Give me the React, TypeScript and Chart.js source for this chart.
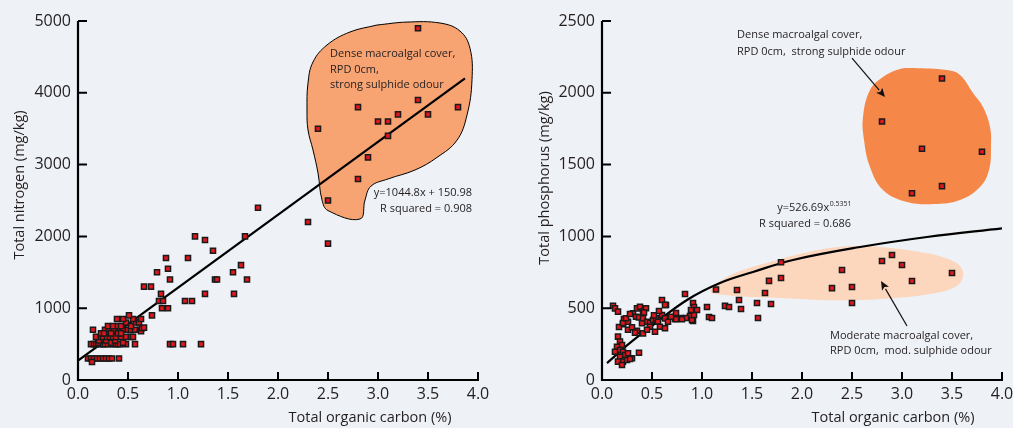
import React, { useEffect, useRef } from 'react';
import { Chart, registerables } from 'chart.js';

Chart.register(...registerables);

type Pt = [number, number];

const FONT = '"Open Sans", "DejaVu Sans", sans-serif';
const TEXT = '#231f20';
const BG = '#eef1f5';

// ---------- Left panel: Total nitrogen vs TOC ----------
const xTicks = [0, 0.5, 1, 1.5, 2, 2.5, 3, 3.5, 4];
const nitrogenTicks = [0, 1000, 2000, 3000, 4000, 5000];
const phosphorusTicks = [0, 500, 1000, 1500, 2000, 2500];

const nitrogenDense: Pt[] = [
  [3.4, 4900], [2.8, 3800], [3.4, 3900], [3.8, 3800], [3.0, 3600], [3.1, 3600], [3.2, 3700],
  [3.5, 3700], [2.4, 3500], [3.1, 3400], [2.9, 3100], [2.8, 2800], [2.5, 2500],
];
const nitrogenMid: Pt[] = [
  [1.8, 2400], [2.3, 2200], [2.5, 1900], [1.17, 2000], [1.27, 1950], [1.67, 2000], [1.35, 1800],
  [0.88, 1700], [1.1, 1700], [1.63, 1600], [0.79, 1500], [0.9, 1550], [1.55, 1500], [0.92, 1400],
  [1.37, 1400], [1.39, 1400], [1.69, 1400], [0.66, 1300], [0.73, 1300], [0.83, 1200], [1.27, 1200],
  [1.56, 1200], [0.81, 1100], [0.85, 1100], [1.07, 1100], [1.14, 1100], [0.84, 1000], [0.9, 1000],
  [0.74, 900], [0.92, 500], [0.95, 500], [1.05, 500], [1.23, 500],
];
const nitrogenLow: Pt[] = [
  [0.1, 300], [0.13, 300], [0.16, 300], [0.19, 300], [0.22, 300], [0.25, 300], [0.28, 300],
  [0.31, 300], [0.34, 300], [0.41, 300], [0.14, 250],
  [0.15, 700], [0.27, 700], [0.31, 700], [0.36, 700], [0.42, 700], [0.45, 700], [0.5, 700],
  [0.53, 700], [0.57, 700], [0.62, 700], [0.63, 680], [0.64, 720], [0.66, 730],
  [0.13, 500], [0.16, 500], [0.18, 500], [0.22, 500], [0.25, 500], [0.27, 500], [0.3, 500],
  [0.34, 500], [0.37, 500], [0.4, 500], [0.42, 500], [0.48, 500], [0.57, 500],
  [0.2, 520], [0.33, 520], [0.45, 520], [0.21, 550], [0.28, 550], [0.37, 550],
  [0.18, 600], [0.23, 600], [0.25, 600], [0.29, 600], [0.32, 600], [0.35, 600], [0.38, 600],
  [0.43, 600], [0.48, 600], [0.53, 600], [0.55, 600],
  [0.23, 650], [0.26, 650], [0.33, 650], [0.4, 650], [0.43, 650],
  [0.3, 750], [0.35, 750], [0.4, 750], [0.43, 750], [0.53, 750],
  [0.48, 800], [0.58, 800], [0.61, 800], [0.39, 850], [0.45, 850], [0.55, 850], [0.63, 850],
  [0.51, 900],
];
const nitrogenFit: Pt[] = [[0, 270], [3.87, 4200]];
const nitrogenBlob: Pt[] = [
  [2.99, 4944], [3.29, 4985], [3.62, 4972], [3.82, 4860], [3.92, 4620], [3.94, 4180],
  [3.89, 3690], [3.79, 3340], [3.59, 3100], [3.37, 2925], [3.1, 2800], [2.93, 2700],
  [2.87, 2507], [2.82, 2242], [2.5, 2360], [2.44, 2507], [2.4, 2883], [2.35, 3203],
  [2.3, 3482], [2.29, 3760], [2.3, 4136], [2.35, 4429], [2.49, 4666], [2.72, 4847], [2.99, 4944],
];

// ---------- Right panel: Total phosphorus vs TOC ----------
const phosphorusDense: Pt[] = [
  [3.4, 2100], [2.8, 1800], [3.2, 1610], [3.8, 1590], [3.4, 1350], [3.1, 1300],
];
const phosphorusModerate: Pt[] = [
  [1.79, 820], [1.67, 690], [1.79, 710], [1.63, 606], [1.69, 529], [2.4, 766], [2.3, 640],
  [2.5, 648], [2.5, 536], [2.8, 829], [2.9, 870], [3.0, 801], [3.1, 689], [3.5, 745],
];
const phosphorusMid: Pt[] = [
  [1.14, 630], [1.35, 627], [1.23, 516], [1.27, 508], [1.37, 557], [1.39, 494], [1.55, 536],
  [1.56, 432], [1.05, 508], [1.07, 439], [1.1, 432], [0.83, 599], [0.91, 536], [0.92, 508],
  [0.9, 474], [0.88, 446], [0.91, 411], [0.95, 488], [0.84, 432], [0.79, 432], [0.73, 425],
  [0.74, 467], [0.64, 522], [0.6, 557],
];
const phosphorusLow: Pt[] = [
  [0.11, 517], [0.13, 499], [0.16, 476], [0.22, 424], [0.21, 389], [0.26, 406], [0.31, 464],
  [0.35, 499], [0.38, 510], [0.41, 476], [0.34, 441], [0.37, 436], [0.41, 429], [0.26, 350],
  [0.3, 367], [0.35, 343], [0.41, 325], [0.45, 406], [0.48, 399], [0.51, 418], [0.54, 429],
  [0.56, 406], [0.6, 453], [0.63, 523], [0.63, 429], [0.66, 406], [0.58, 371], [0.63, 360],
  [0.48, 371], [0.53, 336], [0.45, 350], [0.4, 395], [0.74, 423], [0.8, 423], [0.9, 418],
  [0.92, 453], [0.89, 488], [0.16, 302], [0.18, 267], [0.2, 244], [0.15, 232], [0.18, 209],
  [0.21, 197], [0.23, 174], [0.26, 186], [0.3, 151], [0.18, 162], [0.21, 128], [0.16, 128],
  [0.25, 139], [0.37, 190], [0.13, 197], [0.2, 104], [0.28, 146], [0.17, 369], [0.21, 397],
  [0.24, 430], [0.28, 460], [0.33, 330], [0.44, 500], [0.52, 450], [0.57, 480], [0.69, 440],
  [0.42, 470],
];
const phosphorusFit: Pt[] = [
  [0.05, 118], [0.28, 258], [0.51, 383], [0.85, 557], [1.18, 675], [1.51, 752], [1.91, 836],
  [2.58, 926], [3.25, 996], [4.0, 1056],
];
const phosphorusDenseBlob: Pt[] = [
  [3.11, 2173], [3.45, 2159], [3.58, 2124], [3.71, 1999], [3.81, 1901], [3.88, 1762],
  [3.89, 1623], [3.87, 1462], [3.78, 1344], [3.58, 1253], [3.35, 1226], [3.05, 1240],
  [2.81, 1323], [2.68, 1483], [2.62, 1671], [2.61, 1831], [2.68, 2019], [2.81, 2110],
  [2.98, 2166], [3.11, 2173],
];
const phosphorusModerateBlob: Pt[] = [
  [1.08, 627], [1.2, 696], [1.38, 759], [1.68, 822], [1.98, 877], [2.28, 919], [2.58, 933],
  [2.88, 919], [3.18, 891], [3.43, 850], [3.58, 794], [3.61, 717], [3.53, 648], [3.28, 599],
  [2.93, 571], [2.58, 557], [2.18, 557], [1.78, 571], [1.48, 578], [1.23, 592], [1.1, 606],
  [1.08, 627],
];

// ---------- helpers ----------
interface Note {
  x: number;
  y: number;
  lines: string[];
  align: 'left' | 'right';
  lineHeight: number;
  sup?: string;
}
interface Decor {
  xTitle: string;
  yTitle: string;
  xTitleDX: number;
  yTitleDX: number;
  yTitleY: number;
  notes: Note[];
  arrows: { from: Pt; to: Pt }[];
}

const toXY = (a: Pt[]) => a.map(([x, y]) => ({ x, y }));

function decorPlugin(d: Decor) {
  return {
    id: 'decor',
    afterDraw(chart: any) {
      const { ctx, chartArea } = chart;
      const xs = chart.scales.x;
      const ys = chart.scales.y;
      const { left, right, top, bottom } = chartArea;
      ctx.save();
      // axes
      ctx.strokeStyle = '#000';
      ctx.lineWidth = 2.2;
      ctx.lineCap = 'butt';
      ctx.beginPath();
      ctx.moveTo(left, top);
      ctx.lineTo(left, bottom);
      ctx.lineTo(right + 1, bottom);
      ctx.stroke();
      ctx.lineWidth = 2;
      ctx.beginPath();
      xTicks.forEach((v) => {
        if (v === 0) return;
        const px = xs.getPixelForValue(v);
        ctx.moveTo(px, bottom);
        ctx.lineTo(px, bottom - 8);
      });
      ys.ticks.forEach((t: any) => {
        if (t.value === 0) return;
        const py = ys.getPixelForValue(t.value);
        ctx.moveTo(left, py);
        ctx.lineTo(left + 9, py);
      });
      ctx.stroke();

      // titles
      ctx.fillStyle = TEXT;
      ctx.font = `14.5px ${FONT}`;
      ctx.textAlign = 'center';
      ctx.textBaseline = 'middle';
      ctx.fillText(d.xTitle, left + d.xTitleDX, bottom + 38);
      ctx.save();
      ctx.translate(left + d.yTitleDX, top + d.yTitleY);
      ctx.rotate(-Math.PI / 2);
      ctx.fillText(d.yTitle, 0, 0);
      ctx.restore();

      // notes
      ctx.font = `11px ${FONT}`;
      d.notes.forEach((n) => {
        const px = xs.getPixelForValue(n.x);
        const py = ys.getPixelForValue(n.y);
        n.lines.forEach((line, i) => {
          const ly = py + i * n.lineHeight;
          if (i === 0 && n.sup) {
            ctx.font = `7px ${FONT}`;
            const ws = ctx.measureText(n.sup).width;
            ctx.font = `11px ${FONT}`;
            const wm = ctx.measureText(line).width;
            const startX = n.align === 'right' ? px - ws - wm : px;
            ctx.textAlign = 'left';
            ctx.fillText(line, startX, ly);
            ctx.font = `7px ${FONT}`;
            ctx.fillText(n.sup, startX + wm + 0.5, ly - 4);
            ctx.font = `11px ${FONT}`;
          } else {
            ctx.textAlign = n.align;
            ctx.fillText(line, px, ly);
          }
        });
      });

      // arrows
      ctx.strokeStyle = '#111';
      ctx.fillStyle = '#111';
      ctx.lineWidth = 1.2;
      d.arrows.forEach((a) => {
        const x1 = xs.getPixelForValue(a.from[0]);
        const y1 = ys.getPixelForValue(a.from[1]);
        const x2 = xs.getPixelForValue(a.to[0]);
        const y2 = ys.getPixelForValue(a.to[1]);
        const ang = Math.atan2(y2 - y1, x2 - x1);
        const hl = 9;
        const hw = 4;
        const bx = x2 - hl * Math.cos(ang);
        const by = y2 - hl * Math.sin(ang);
        ctx.beginPath();
        ctx.moveTo(x1, y1);
        ctx.lineTo(bx, by);
        ctx.stroke();
        ctx.beginPath();
        ctx.moveTo(x2, y2);
        ctx.lineTo(bx + hw * Math.sin(ang), by - hw * Math.cos(ang));
        ctx.lineTo(bx + 2 * Math.cos(ang), by + 2 * Math.sin(ang));
        ctx.lineTo(bx - hw * Math.sin(ang), by + hw * Math.cos(ang));
        ctx.closePath();
        ctx.fill();
      });
      ctx.restore();
    },
  };
}

function makeChart(
  canvas: HTMLCanvasElement,
  o: {
    points: Pt[];
    fit: Pt[];
    fitTension: number;
    blobs: { pts: Pt[]; fill: string; border?: string }[];
    yTicks: number[];
    axisWidth: number;
    padRight: number;
    decor: Decor;
  }
) {
  const pointSet = {
    data: toXY(o.points),
    pointStyle: 'rect',
    pointRadius: 3.6,
    pointHoverRadius: 3.6,
    backgroundColor: '#e3161e',
    borderColor: '#1a1a1a',
    borderWidth: 1.5,
    order: 0,
  };
  const fitSet = {
    data: toXY(o.fit),
    showLine: true,
    pointRadius: 0,
    borderColor: '#000',
    borderWidth: 2.2,
    tension: o.fitTension,
    fill: false,
    order: 1,
  };
  const blobSets = o.blobs.map((b, i) => ({
    data: toXY(b.pts),
    showLine: true,
    pointRadius: 0,
    backgroundColor: b.fill,
    borderColor: b.border || b.fill,
    borderWidth: b.border ? 1 : 0,
    tension: 0.4,
    fill: 'shape',
    order: 2 + i,
  }));
  const tickFont = { family: FONT, size: 16 };
  const yMax = o.yTicks[o.yTicks.length - 1];
  return new Chart(canvas, {
    type: 'scatter',
    data: { datasets: [pointSet, fitSet, ...blobSets] as any },
    options: {
      animation: false,
      responsive: false,
      maintainAspectRatio: false,
      layout: { padding: { top: 21, right: o.padRight, left: 0, bottom: 0 } },
      plugins: { legend: { display: false }, tooltip: { enabled: false } },
      events: [],
      scales: {
        x: {
          type: 'linear',
          min: 0,
          max: 4,
          afterBuildTicks: (s: any) => {
            s.ticks = xTicks.map((v) => ({ value: v }));
          },
          ticks: {
            callback: (v: any) => Number(v).toFixed(1),
            font: tickFont,
            color: TEXT,
            padding: 5,
            maxRotation: 0,
            autoSkip: false,
          },
          grid: { display: false, drawTicks: false },
          border: { display: false },
          afterFit: (s: any) => {
            s.height = 48;
          },
        },
        y: {
          type: 'linear',
          min: 0,
          max: yMax,
          afterBuildTicks: (s: any) => {
            s.ticks = o.yTicks.map((v) => ({ value: v }));
          },
          ticks: {
            callback: (v: any) => String(v),
            font: tickFont,
            color: TEXT,
            padding: 7,
            autoSkip: false,
          },
          grid: { display: false, drawTicks: false },
          border: { display: false },
          afterFit: (s: any) => {
            s.width = o.axisWidth;
          },
        },
      },
    } as any,
    plugins: [decorPlugin(o.decor)],
  });
}

export default function App() {
  const leftRef = useRef<HTMLCanvasElement>(null);
  const rightRef = useRef<HTMLCanvasElement>(null);

  useEffect(() => {
    const c1 = makeChart(leftRef.current!, {
      points: [...nitrogenDense, ...nitrogenMid, ...nitrogenLow],
      fit: nitrogenFit,
      fitTension: 0,
      blobs: [{ pts: nitrogenBlob, fill: '#f7a372', border: '#000' }],
      yTicks: nitrogenTicks,
      axisWidth: 78,
      padRight: 28,
      decor: {
        xTitle: 'Total organic carbon (%)',
        yTitle: 'Total nitrogen (mg/kg)',
        xTitleDX: 292,
        yTitleDX: -58,
        yTitleY: 164,
        notes: [
          {
            x: 2.52,
            y: 4540,
            lines: ['Dense macroalgal cover,', 'RPD 0cm,', 'strong sulphide odour'],
            align: 'left',
            lineHeight: 15.5,
          },
          {
            x: 3.94,
            y: 2604,
            lines: ['y=1044.8x + 150.98', 'R squared = 0.908'],
            align: 'right',
            lineHeight: 16,
          },
        ],
        arrows: [],
      },
    });
    const c2 = makeChart(rightRef.current!, {
      points: [...phosphorusDense, ...phosphorusModerate, ...phosphorusMid, ...phosphorusLow],
      fit: phosphorusFit,
      fitTension: 0.4,
      blobs: [
        { pts: phosphorusDenseBlob, fill: '#f58848' },
        { pts: phosphorusModerateBlob, fill: '#fcd6bd' },
      ],
      yTicks: phosphorusTicks,
      axisWidth: 96,
      padRight: 34,
      decor: {
        xTitle: 'Total organic carbon (%)',
        yTitle: 'Total phosphorus (mg/kg)',
        xTitleDX: 291,
        yTitleDX: -57,
        yTitleY: 157,
        notes: [
          {
            x: 1.35,
            y: 2402,
            lines: ['Dense macroalgal cover,', 'RPD 0cm,  strong sulphide odour'],
            align: 'left',
            lineHeight: 17,
          },
          {
            x: 2.49,
            y: 1198,
            lines: ['y=526.69x', 'R squared = 0.686'],
            align: 'right',
            lineHeight: 16,
            sup: '0.5351',
          },
          {
            x: 2.28,
            y: 306,
            lines: ['Moderate macroalgal cover,', 'RPD 0cm,  mod. sulphide odour'],
            align: 'left',
            lineHeight: 15,
          },
        ],
        arrows: [
          { from: [2.5, 2242], to: [2.83, 1970] },
          { from: [3.05, 376], to: [2.79, 689] },
        ],
      },
    });
    return () => {
      c1.destroy();
      c2.destroy();
    };
  }, []);

  return (
    <div
      style={{
        position: 'fixed',
        left: 0,
        top: 0,
        width: 1013,
        height: 428,
        overflow: 'hidden',
        background: BG,
      }}
    >
      <canvas
        ref={leftRef}
        width={506}
        height={428}
        style={{ position: 'absolute', left: 0, top: 0, width: 506, height: 428 }}
      />
      <canvas
        ref={rightRef}
        width={530}
        height={428}
        style={{ position: 'absolute', left: 506, top: 0, width: 530, height: 428 }}
      />
    </div>
  );
}
